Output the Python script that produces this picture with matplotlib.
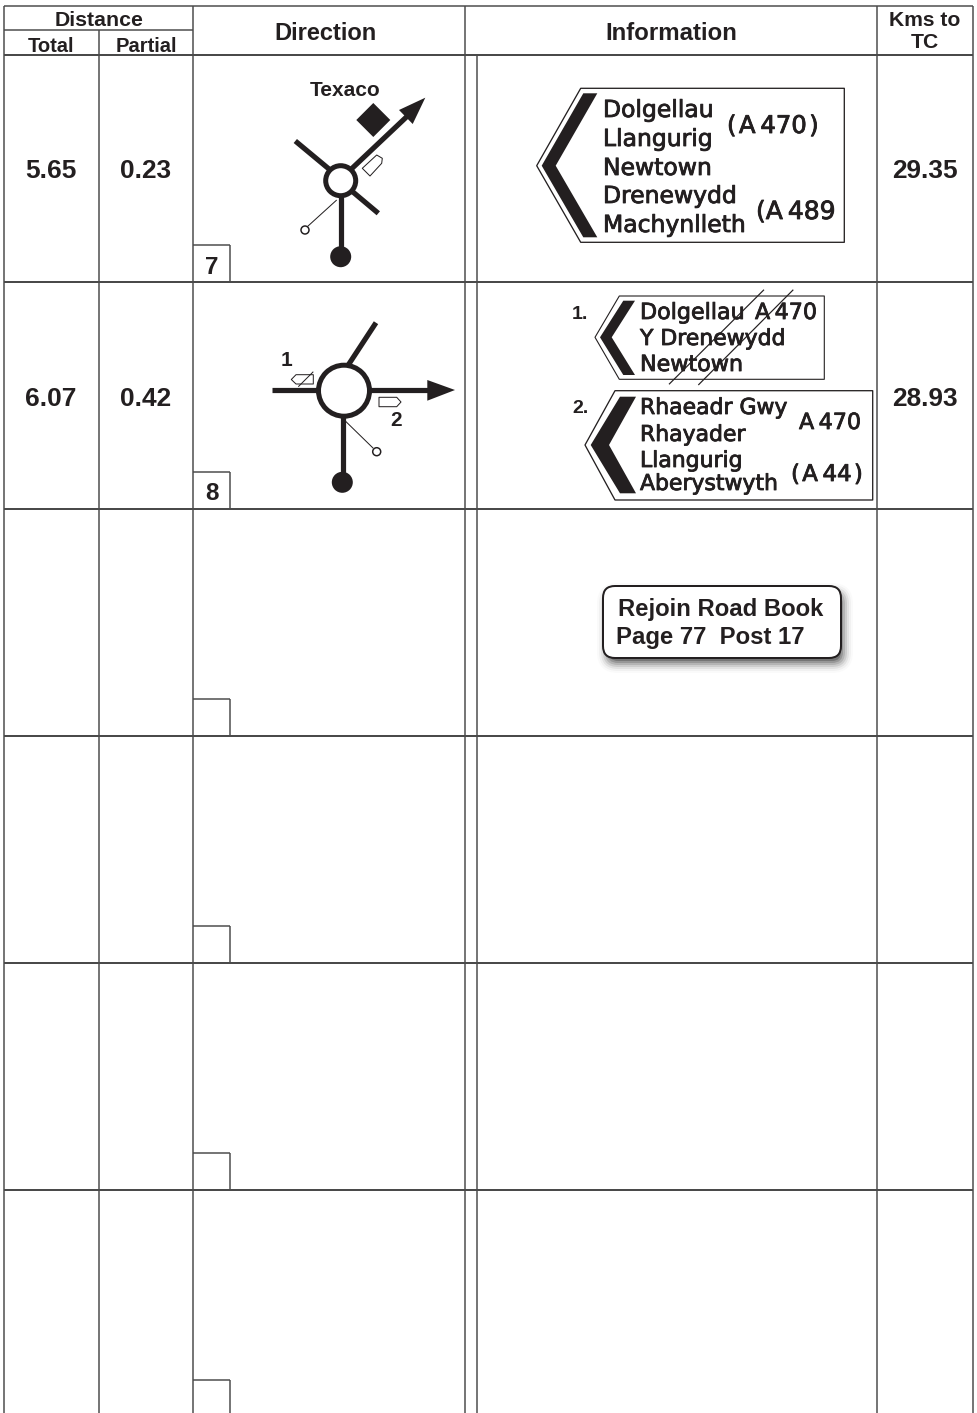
import matplotlib
matplotlib.use("Agg")
import matplotlib.pyplot as plt
import matplotlib.patheffects as pe
from matplotlib.patches import Circle, Polygon, FancyBboxPatch

W, H = 977, 1413
INK = "#231f20"
LINE = "#4a4a4a"
BODY = ["Liberation Sans", "DejaVu Sans"]
SIGN = ["DejaVu Sans"]

# table content
col_x = [4, 99, 193, 465, 877, 973]
info_rule_x = 477
header_y = [6, 30, 55]
row_y = [55, 282, 509, 736, 963, 1190, 1417]
totals = ["5.65", "6.07"]
partials = ["0.23", "0.42"]
kms_to_tc = ["29.35", "28.93"]
box_numbers = ["7", "8", "", "", "", ""]

# road sign texts: text, x, baseline, size
sign1_text = [("Dolgellau", 603, 117, 16.9), ("Llangurig", 603, 146, 16.9), ("Newtown", 603, 175, 16.9),
              ("Drenewydd", 603, 203, 16.9), ("Machynlleth", 603, 232, 16.9),
              ("(\u200aA\u2009470\u200a)", 727, 133, 17.5), ("(A\u2009489", 756, 219, 18)]
sign2_text = [("Dolgellau", 640, 319, 16), ("A\u2009470", 755, 319, 16),
              ("Y Drenewydd", 640, 345, 15.8), ("Newtown", 640, 371, 16)]
sign3_text = [("Rhaeadr Gwy", 640, 414, 15.8), ("Rhayader", 640, 441, 15.8), ("Llangurig", 640, 467, 15.8),
              ("Aberystwyth", 640, 490, 15.8), ("A\u2009470", 799, 429, 16),
              ("(\u200aA\u200944\u200a)", 791, 481, 16.5)]

fig = plt.figure(figsize=(W / 100, H / 100), dpi=100)
ax = fig.add_axes([0, 0, 1, 1])
ax.set_xlim(0, W)
ax.set_ylim(H, 0)
ax.axis("off")


def px(w):
    return w * 0.72


def rule(x0, y0, x1, y1, w=1.5, c=LINE, z=2):
    ax.plot([x0, x1], [y0, y1], color=c, lw=px(w), solid_capstyle="butt", zorder=z)


def road(x0, y0, x1, y1, w=5.2):
    ax.plot([x0, x1], [y0, y1], color=INK, lw=px(w), solid_capstyle="butt", zorder=3)


def poly(pts, fc=INK, ec="none", w=1.0, z=3):
    ax.add_patch(Polygon(pts, closed=True, fc=fc, ec=ec, lw=px(w), joinstyle="round", zorder=z))


def ring(x, y, r, w=5):
    ax.add_patch(Circle((x, y), r, fc="white", ec=INK, lw=px(w), zorder=4))


def ball(x, y, r=10.5):
    ax.add_patch(Circle((x, y), r, fc=INK, ec="none", zorder=4))


def label(x, y, s, size, ha="center", va="center"):
    ax.text(x, y, s, fontsize=size, fontweight="bold", family=BODY, color=INK, ha=ha, va=va, zorder=5)


def sign_lines(lines):
    for s, x, y, size in lines:
        t = ax.text(x, y, s, fontsize=size, family=SIGN, color=INK, ha="left", va="baseline", zorder=5)
        t.set_path_effects([pe.withStroke(linewidth=0.6, foreground=INK)])


# grid
for x in col_x:
    top = header_y[1] if x == col_x[1] else header_y[0]
    rule(x, top, x, H)
rule(info_rule_x, row_y[0], info_rule_x, H)
rule(col_x[0], header_y[0], col_x[-1], header_y[0])
rule(col_x[0], header_y[1], col_x[2], header_y[1])
rule(col_x[0], row_y[0], col_x[-1], row_y[0], 2)
for y in row_y[1:-1]:
    rule(col_x[0], y, col_x[-1], y, 2)

# header
label(99, 20, "Distance", 15.3)
label(51, 46, "Total", 14.5)
label(146, 46, "Partial", 14.5)
label(326, 33, "Direction", 17)
label(671, 33, "Information", 17.3)
label(925, 20, "Kms to", 15.2)
label(925, 42, "TC", 15.2)

# row values
for i, (t, p, k) in enumerate(zip(totals, partials, kms_to_tc)):
    y = (row_y[i] + row_y[i + 1]) / 2 + 3
    label(51, y, t, 18.9)
    label(146, y, p, 18.9)
    label(925, y, k, 18.9)

# number boxes
for i, n in enumerate(box_numbers):
    b = row_y[i + 1]
    rule(193, b - 37, 230, b - 37)
    rule(230, b - 37, 230, min(b, H))
    if n:
        label(211.5, b - 15, n, 17.5)

# junction 7
road(295.3, 141, 335, 174)
road(347, 187, 378.3, 213.3)
road(345, 175, 408, 115.5)
road(340.7, 190, 340.7, 257)
ring(340.7, 180.7, 15)
ball(340.7, 256.7)
poly([(399, 110), (425.3, 97.7), (412.7, 124)])
poly([(356.3, 120), (373.3, 103), (390.3, 120), (373.3, 137)])
rule(336.7, 200, 307.3, 226.7, 1, INK)
ax.add_patch(Circle((305, 230), 4, fc="white", ec=INK, lw=px(1.5), zorder=4))
poly([(362.3, 168.3), (376.7, 155), (382.3, 158.3), (381.7, 163.3), (370, 176)], fc="white", ec=INK)
label(345, 90, "Texaco", 15)

# junction 8
road(271.7, 390, 325, 390)
road(376, 322.7, 345, 370)
road(360, 390, 428, 390)
road(342.7, 405, 342.7, 482)
ring(344, 390.7, 25.5)
ball(342.3, 482.3)
poly([(427.3, 380), (455, 390), (427.3, 400.7)])
rule(345, 420.7, 373.3, 448.3, 1, INK)
ax.add_patch(Circle((376.7, 451.7), 4, fc="white", ec=INK, lw=px(1.5), zorder=4))
poly([(291.3, 379.5), (296, 374.7), (313.3, 374.7), (313.3, 384), (296, 384)], fc="white", ec=INK)
rule(313.3, 371.7, 298.3, 386.7, 1, INK, 4)
poly([(379, 397.3), (396.7, 397.3), (401, 402), (396.7, 406.7), (379, 406.7)], fc="white", ec=INK)
label(286.7, 360, "1", 15)
label(396, 420, "2", 15)

# sign 1
poly([(580.7, 88.3), (844.3, 88.3), (844.3, 242.3), (580.7, 242.3), (536.7, 165.7)], fc="white", ec=INK, w=1.3)
poly([(583.3, 93.3), (597.3, 93.3), (555.7, 165.7), (597.3, 237.3), (583.3, 237.3), (541.7, 165.7)])
sign_lines(sign1_text)

# sign 2 (struck out)
poly([(619.3, 296), (824.3, 296), (824.3, 379.3), (619.3, 379.3), (595, 337.3)], fc="white", ec=INK, w=1.1)
poly([(623.3, 300.7), (635, 300.7), (611.7, 337.3), (635, 375), (623.3, 375), (600, 337.3)])
sign_lines(sign2_text)
rule(764, 289.7, 669, 384.3, 1.2, INK, 6)
rule(793.3, 289.7, 698.3, 385, 1.2, INK, 6)
ax.text(572, 319, "1.", fontsize=14, fontweight="bold", family=BODY, color=INK, va="baseline", zorder=5)

# sign 3
poly([(615, 390.7), (872.7, 390.7), (872.7, 500), (615, 500), (585, 445)], fc="white", ec=INK, w=1.3)
poly([(620, 396.7), (636, 396.7), (609, 445), (636, 493.3), (620, 493.3), (590.7, 445)])
sign_lines(sign3_text)
ax.text(572, 413, "2.", fontsize=14, fontweight="bold", family=BODY, color=INK, va="baseline", zorder=5)

# rejoin box with soft shadow
x0, y0, x1, y1 = 603, 586, 841, 658
for grow, a in [(9, 0.02), (7, 0.035), (5, 0.06), (3, 0.09), (1, 0.12), (-1, 0.16), (-3, 0.22)]:
    ax.add_patch(FancyBboxPatch((x0 + 3, y0 + 6), x1 - x0, y1 - y0,
                                boxstyle=f"round,pad={grow},rounding_size={12 + grow}",
                                fc="black", ec="none", alpha=a, zorder=3))
ax.add_patch(FancyBboxPatch((x0, y0), x1 - x0, y1 - y0, boxstyle="round,pad=0,rounding_size=12",
                            fc="white", ec=INK, lw=px(2), zorder=4))
label(618, 616, "Rejoin Road Book", 17.2, ha="left", va="baseline")
label(616, 644, "Page 77  Post 17", 17.2, ha="left", va="baseline")

fig.savefig("out.png", dpi=100)
